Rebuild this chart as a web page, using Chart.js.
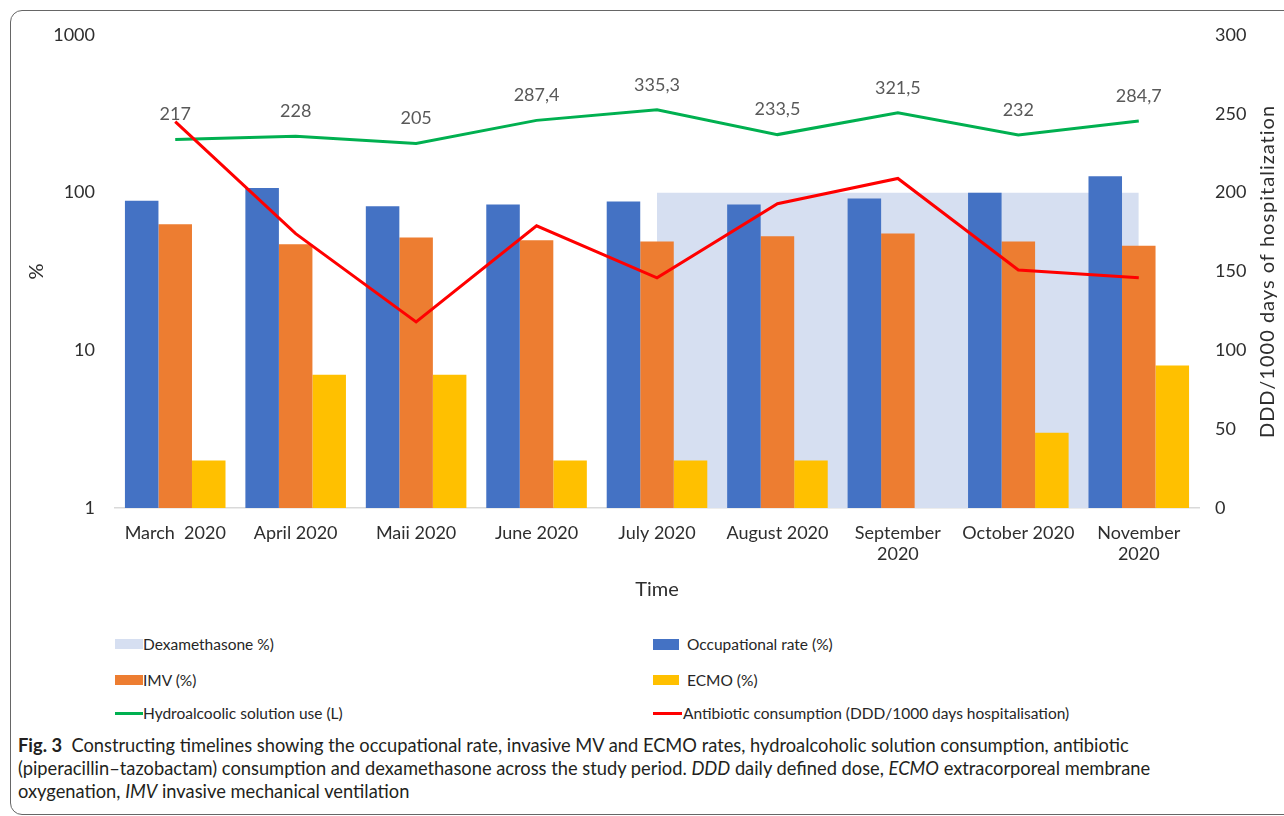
<!DOCTYPE html>
<html><head><meta charset="utf-8">
<script src="https://cdn.jsdelivr.net/npm/chart.js@4.4.1/dist/chart.umd.min.js"></script>
<style>
html,body{margin:0;padding:0;background:#fff;}
body{width:1284px;height:816px;position:relative;overflow:hidden;font-family:Lato,sans-serif;}
#frame{position:absolute;left:10px;top:10px;width:1300px;height:805px;border:1.5px solid #666;border-radius:12px;box-sizing:border-box;}
#wrap{position:absolute;left:0;top:0;width:1284px;height:620px;}
.li{position:absolute;height:20px;display:flex;align-items:center;font-size:15.5px;color:#262626;white-space:nowrap;}
.sw{display:inline-block;flex:none;}
#caption{position:absolute;left:18px;top:734px;font-size:18.3px;line-height:23px;color:#231f20;white-space:nowrap;}
</style></head>
<body>
<div id="frame"></div>
<div id="wrap"><canvas id="c" width="1284" height="620"></canvas></div>
<div id="legend"></div>
<div id="caption"><b>Fig. 3</b>&nbsp; Constructing timelines showing the occupational rate, invasive MV and ECMO rates, hydroalcoholic solution consumption, antibiotic<br>(piperacillin–tazobactam) consumption and dexamethasone across the study period. <i>DDD</i> daily defined dose, <i>ECMO</i> extracorporeal membrane<br>oxygenation, <i>IMV</i> invasive mechanical ventilation</div>
<script>
const categories = ['March  2020','April 2020','Maii 2020','June 2020','July 2020','August 2020',['September','2020'],'October 2020',['November','2020']];
const occupationalRate = [89,107,82,84,88,84,92,100,127];
const imv = [63,47,52,50,49,53,55,49,46];
const ecmo = [2,7,7,2,2,2,null,3,8];
const dexamethasone = [null,null,null,null,100,100,100,100,100];
const hydroalcoolic = [217,228,205,287.4,335.3,233.5,321.5,232,284.7];
const antibiotic = [245,174,118,179,146,193,209,151,146];
const leftTicks = [1,10,100,1000];
const rightTickStep = 50;
const rightAxisTitle = 'DDD/1000 days of hospitalization';

const FONT = 'Lato';
const TXT = '#2e2e2e';

const rightTitlePlugin = {
  id:'rightTitle',
  afterDraw(c){
    const ctx=c.ctx, a=c.chartArea;
    ctx.save();
    ctx.translate(a.right+69,(a.top+a.bottom)/2);
    ctx.rotate(-Math.PI/2);
    ctx.font='20px '+FONT; ctx.fillStyle=TXT;
    try{ ctx.letterSpacing='1px'; }catch(e){}
    ctx.textAlign='center'; ctx.textBaseline='middle';
    ctx.fillText(rightAxisTitle,0,0);
    ctx.restore();
  }
};
const hydroLabelPlugin = {
  id:'hydroLabels',
  afterDatasetsDraw(c){
    const meta=c.getDatasetMeta(4), ctx=c.ctx;
    ctx.save();
    ctx.font='18px '+FONT; ctx.fillStyle='#595959';
    ctx.textAlign='center'; ctx.textBaseline='middle';
    meta.data.forEach((pt,i)=>{
      ctx.fillText(String(hydroalcoolic[i]).replace('.',','), pt.x, pt.y-25);
    });
    ctx.restore();
  }
};

const chart = new Chart(document.getElementById('c'), {
  type:'bar',
  data:{labels:categories, datasets:[
    {type:'line', label:'Dexamethasone %)', data:dexamethasone, yAxisID:'y', backgroundColor:'#D6DFF1', borderColor:'rgba(0,0,0,0)', borderWidth:0, pointRadius:0, fill:'start', order:3},
    {label:'Occupational rate (%)', data:occupationalRate, backgroundColor:'#4472C4', yAxisID:'y', order:2},
    {label:'IMV (%)', data:imv, backgroundColor:'#ED7D31', yAxisID:'y', order:2},
    {label:'ECMO (%)', data:ecmo, backgroundColor:'#FFC000', yAxisID:'y', order:2},
    {type:'line', label:'Hydroalcoolic solution use (L)', data:hydroalcoolic, borderColor:'#00B050', backgroundColor:'#00B050', borderWidth:3, pointRadius:0, yAxisID:'y', order:1, fill:false},
    {type:'line', label:'Antibiotic consumption (DDD/1000 days hospitalisation)', data:antibiotic, borderColor:'#FF0000', backgroundColor:'#FF0000', borderWidth:3, pointRadius:0, yAxisID:'y1', order:0, fill:false}
  ]},
  options:{
    responsive:false, animation:false,
    datasets:{bar:{categoryPercentage:0.835, barPercentage:1.0}},
    layout:{padding:{top:35,right:0,left:0,bottom:0}},
    plugins:{legend:{display:false}, tooltip:{enabled:false}},
    scales:{
      x:{
        grid:{display:false, drawTicks:false},
        border:{display:true, color:'#D9D9D9', width:1.5},
        ticks:{font:{family:FONT,size:18}, color:TXT, padding:14, maxRotation:0, autoSkip:false},
        title:{display:true, text:'Time', font:{family:FONT,size:20}, color:TXT, padding:{top:0,bottom:18}},
        afterFit(s){ s.height=112; }
      },
      y:{
        type:'logarithmic', position:'left', min:1, max:1000,
        grid:{display:false, drawTicks:false}, border:{display:false},
        ticks:{autoSkip:false, padding:20, font:{family:FONT,size:18}, color:TXT,
          callback:(v)=> leftTicks.includes(v) ? String(v) : ''},
        afterBuildTicks(s){ s.ticks = leftTicks.map(v=>({value:v})); },
        title:{display:true, text:'%', font:{family:FONT,size:20}, color:TXT, padding:{top:25,bottom:0}},
        afterFit(s){ s.width=115; }
      },
      y1:{
        position:'right', min:0, max:300,
        grid:{display:false, drawTicks:false}, border:{display:false},
        ticks:{stepSize:rightTickStep, padding:16, font:{family:FONT,size:18}, color:TXT},
        afterFit(s){ s.width=85; }
      }
    }
  },
  plugins:[rightTitlePlugin, hydroLabelPlugin]
});

// HTML legend built from the chart's datasets
const legendSlots = [
  {l:115, t:634, gap:0, sw:[28,10]},
  {l:653, t:634, gap:8, sw:[26,11]},
  {l:115, t:670, gap:0, sw:[28,10]},
  {l:653, t:670, gap:8, sw:[26,10]},
  {l:115, t:703, gap:0, sw:[28,3]},
  {l:653, t:703, gap:1, sw:[29,3]}
];
const legend = document.getElementById('legend');
chart.data.datasets.forEach((ds,k)=>{
  const s = legendSlots[k];
  const isLine = ds.type==='line' && ds.fill===false;
  const item = document.createElement('div');
  item.className='li'; item.style.left=s.l+'px'; item.style.top=s.t+'px';
  const sw = document.createElement('span');
  sw.className='sw'; sw.style.width=s.sw[0]+'px'; sw.style.height=s.sw[1]+'px';
  sw.style.background = isLine ? ds.borderColor : ds.backgroundColor;
  sw.style.marginRight = s.gap+'px';
  item.appendChild(sw);
  item.appendChild(document.createTextNode(ds.label));
  legend.appendChild(item);
});
</script>
</body></html>
